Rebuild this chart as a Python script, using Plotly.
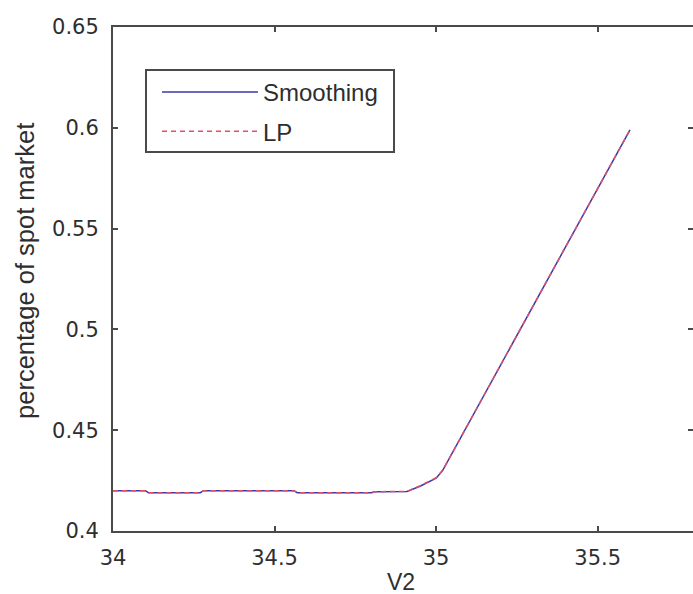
import plotly.graph_objects as go

# V2 values and the share of the spot market for each method
v2 = [34.0, 34.1, 34.11, 34.27, 34.28, 34.56, 34.57, 34.8, 34.81, 34.91,
      34.95, 35.0, 35.02, 35.6]
smoothing = [0.4200, 0.4200, 0.4190, 0.4190, 0.4200, 0.4200, 0.4190, 0.4190,
             0.4195, 0.4196, 0.4222, 0.4262, 0.4300, 0.5990]
lp = [0.4200, 0.4200, 0.4190, 0.4190, 0.4200, 0.4200, 0.4190, 0.4190,
      0.4195, 0.4196, 0.4224, 0.4264, 0.4300, 0.5990]

x_ticks = [34, 34.5, 35, 35.5]
x_tick_text = ["34", "34.5", "35", "35.5"]
y_ticks = [0.4, 0.45, 0.5, 0.55, 0.6, 0.65]
y_tick_text = ["0.4", "0.45", "0.5", "0.55", "0.6", "0.65"]

axis_col = "#4a4a4a"
text_col = "#2e2e2e"

fig = go.Figure()
fig.add_trace(go.Scatter(x=v2, y=smoothing, mode="lines", name="Smoothing",
                         legendgroup="s",
                         line=dict(color="#3a3aa8", width=1.5)))
fig.add_trace(go.Scatter(x=v2, y=lp, mode="lines", name="LP",
                         legendgroup="l",
                         line=dict(color="#e0506a", width=1.5, dash="5px,4px")))

common_axis = dict(
    showgrid=False, zeroline=False, showline=True, linecolor=axis_col,
    linewidth=2, mirror="ticks", ticks="inside", ticklen=5,
    tickcolor=axis_col, tickwidth=1.5, automargin=False,
    tickfont=dict(family="DejaVu Sans", size=21, color=text_col),
)

fig.update_xaxes(range=[34, 35.795], tickvals=x_ticks, ticktext=x_tick_text,
                 ticklabelstandoff=7, **common_axis)
fig.update_yaxes(range=[0.4, 0.65], tickvals=y_ticks, ticktext=y_tick_text,
                 ticklabelstandoff=8, **common_axis)

# axis titles placed as annotations
fig.add_annotation(text="V2", xref="paper", yref="paper",
                   x=0.4966, y=-0.131, xanchor="center", yanchor="bottom",
                   showarrow=False,
                   font=dict(family="Liberation Sans", size=23, color=text_col))
fig.add_annotation(text="percentage of spot market", xref="paper", yref="paper",
                   x=-0.1517, y=0.516, xanchor="center", yanchor="middle",
                   textangle=-90, showarrow=False,
                   font=dict(family="Liberation Sans", size=25.5, color=text_col))

# frame around the legend entries
fig.add_shape(type="rect", xref="paper", yref="paper",
              x0=0.0569, x1=0.4845, y0=0.752, y1=0.9147,
              line=dict(color=axis_col, width=2), fillcolor="white", layer="below")

fig.update_layout(
    width=693, height=594,
    margin=dict(l=113, r=0, t=27, b=63),
    paper_bgcolor="white", plot_bgcolor="white",
    showlegend=True,
    legend=dict(x=0.0759, y=0.9147, xanchor="left", yanchor="top",
                bgcolor="rgba(0,0,0,0)", borderwidth=0,
                itemwidth=96, tracegroupgap=5, traceorder="grouped",
                font=dict(family="Liberation Sans", size=24, color=text_col)),
)

fig.write_html("out.html")
